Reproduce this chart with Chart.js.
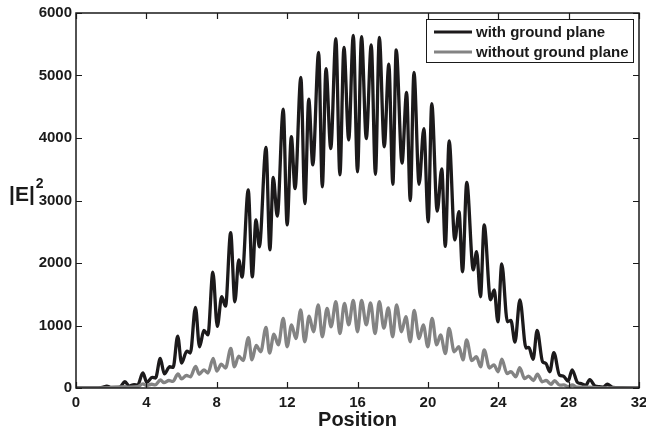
<!DOCTYPE html>
<html><head><meta charset="utf-8">
<script src="https://cdn.jsdelivr.net/npm/chart.js@4"></script>
<style>html,body{margin:0;padding:0;background:#fff;}canvas{display:block}</style>
</head><body>
<canvas id="c" width="646" height="432"></canvas>
<script>
const seriesLabels = ['with ground plane', 'without ground plane'];
const xTicks = [0, 4, 8, 12, 16, 20, 24, 28, 32];
const yTicks = [0, 1000, 2000, 3000, 4000, 5000, 6000];
const xTitle = 'Position';
const yTitle = '|E|';
const yTitleSup = '2';

const withPos = [0,0.8,1.2,1.5,1.75,2.0,2.3,2.5,2.78,3.02,3.3,3.5,3.8,4.03,4.33,4.52,4.79,5.02,5.33,5.52,5.78,6.0,6.3,6.5,6.79,7.02,7.27,7.5,7.78,8.03,8.28,8.5,8.79,9.03,9.25,9.44,9.79,10.02,10.23,10.42,10.8,11.02,11.21,11.44,11.78,12.0,12.24,12.45,12.78,13.01,13.23,13.46,13.79,14.0,14.21,14.48,14.77,15.0,15.23,15.5,15.76,16.0,16.23,16.5,16.78,17.02,17.24,17.52,17.78,18.01,18.2,18.53,18.79,19.0,19.21,19.5,19.77,20.02,20.22,20.53,20.79,20.99,21.21,21.53,21.77,21.97,22.21,22.58,22.77,22.99,23.2,23.56,23.77,23.98,24.2,24.52,24.72,24.95,25.23,25.58,25.74,25.98,26.21,26.52,26.7,26.93,27.16,27.48,27.7,27.97,28.2,28.5,28.72,28.97,29.2,29.5,29.75,29.97,30.2,30.5,31.0,32];
const withVal = [0,2,3,8,30,8,10,15,100,30,55,45,240,90,170,160,472,225,340,330,830,400,590,560,1290,660,920,850,1855,985,1460,1310,2485,1380,2050,1775,3170,1780,2690,2260,3850,2210,3370,2750,4460,2610,4020,3190,4970,2950,4620,3570,5370,3220,5110,3830,5590,3410,5450,3970,5640,3460,5620,3990,5490,3420,5610,3860,5180,3260,5410,3600,4730,3000,5050,3260,4150,2660,4550,2830,3505,2265,3955,2370,2820,1860,3290,1890,2180,1460,2610,1410,1570,1060,1985,1060,1080,735,1410,640,650,460,920,420,395,260,565,205,190,110,290,90,70,40,135,30,20,15,60,10,5,0];

const withoutPos = [0,1,2,2.8,3.0,3.5,3.8,4.0,4.3,4.5,4.8,5.0,5.28,5.5,5.8,6.0,6.28,6.5,6.8,7.0,7.27,7.5,7.8,8.0,8.26,8.5,8.8,9.0,9.25,9.5,9.8,10.0,10.24,10.5,10.8,11.0,11.25,11.5,11.78,12.0,12.25,12.5,12.77,13.0,13.25,13.5,13.77,14.0,14.27,14.5,14.77,15.0,15.26,15.5,15.76,16.0,16.23,16.5,16.74,17.0,17.24,17.5,17.75,18.0,18.22,18.5,18.75,19.0,19.22,19.5,19.74,20.0,20.24,20.5,20.72,21.0,21.2,21.5,21.76,22.0,22.2,22.5,22.76,23.0,23.2,23.5,23.75,24.0,24.2,24.5,24.72,25.0,25.22,25.5,25.72,26.0,26.23,26.5,26.72,27.0,27.2,27.5,27.72,28.0,28.2,28.5,29.2,29.5,30,31,32];
const withoutVal = [0,2,5,20,12,20,65,40,60,50,128,85,120,105,224,145,200,180,345,220,290,240,475,270,380,320,635,340,510,440,805,450,680,580,970,560,860,690,1115,660,1010,790,1250,740,1150,900,1330,820,1275,980,1380,870,1355,1010,1400,900,1400,1010,1360,870,1380,960,1280,820,1330,900,1140,740,1240,790,1010,660,1115,690,850,550,955,580,660,450,770,440,500,340,610,320,370,260,460,230,260,180,325,150,190,120,220,100,120,60,117,45,50,20,48,12,15,5,3,1,0];

const seriesColors = ['#1c1a1b', '#838383'];

function pts(xs, ys) { return xs.map((x, i) => ({ x: x, y: ys[i] })); }

const FONT = '"Liberation Sans", Arial, Helvetica, sans-serif';

const framePlugin = {
  id: 'frame',
  afterDatasetsDraw(chart) {
    const ctx = chart.ctx, a = chart.chartArea;
    const xs = chart.scales.x, ys = chart.scales.y;
    ctx.save();
    ctx.strokeStyle = '#1a1a1a';
    ctx.lineWidth = 1.5;
    ctx.strokeRect(a.left, a.top, a.right - a.left, a.bottom - a.top);
    ctx.lineWidth = 1.2;
    const L = 6;
    ctx.beginPath();
    xTicks.forEach(v => {
      const px = Math.round(xs.getPixelForValue(v)) + 0.5;
      ctx.moveTo(px, a.bottom); ctx.lineTo(px, a.bottom - L);
      ctx.moveTo(px, a.top); ctx.lineTo(px, a.top + L);
    });
    yTicks.forEach(v => {
      const py = Math.round(ys.getPixelForValue(v)) + 0.5;
      ctx.moveTo(a.left, py); ctx.lineTo(a.left + L, py);
      ctx.moveTo(a.right, py); ctx.lineTo(a.right - L, py);
    });
    ctx.stroke();

    // axis titles
    ctx.fillStyle = '#1a1a1a';
    ctx.font = 'bold 20px ' + FONT;
    ctx.textAlign = 'center';
    ctx.textBaseline = 'middle';
    ctx.fillText(xTitle, (a.left + a.right) / 2, 420);
    ctx.font = 'bold 21px ' + FONT;
    ctx.textAlign = 'left';
    ctx.fillText(yTitle, 9, 195);
    const w = ctx.measureText(yTitle).width;
    ctx.font = 'bold 14px ' + FONT;
    ctx.fillText(yTitleSup, 9 + w + 1, 184);

    // legend
    const lx = 426.5, ly = 19.5, lw = 207, lh = 43;
    ctx.fillStyle = '#fff';
    ctx.fillRect(lx, ly, lw, lh);
    ctx.strokeStyle = '#1a1a1a';
    ctx.lineWidth = 1;
    ctx.strokeRect(lx, ly, lw, lh);
    ctx.font = 'bold 15px ' + FONT;
    ctx.textBaseline = 'middle';
    seriesLabels.forEach((lab, i) => {
      const y = 32 + i * 20;
      ctx.strokeStyle = seriesColors[i];
      ctx.lineWidth = 3;
      ctx.beginPath(); ctx.moveTo(434, y); ctx.lineTo(472, y); ctx.stroke();
      ctx.fillStyle = '#1a1a1a';
      ctx.fillText(lab, 476, y + 1);
    });
    ctx.restore();
  }
};

new Chart(document.getElementById('c'), {
  type: 'line',
  data: {
    datasets: [
      { label: seriesLabels[0], data: pts(withPos, withVal), borderColor: seriesColors[0], borderWidth: 3.3, pointRadius: 0, cubicInterpolationMode: 'monotone', fill: false, order: 2 },
      { label: seriesLabels[1], data: pts(withoutPos, withoutVal), borderColor: seriesColors[1], borderWidth: 3.3, pointRadius: 0, cubicInterpolationMode: 'monotone', fill: false, order: 1 }
    ]
  },
  options: {
    responsive: false,
    animation: false,
    devicePixelRatio: 1,
    parsing: true,
    layout: { padding: { left: 0, right: 7, top: 13, bottom: 0 } },
    plugins: { legend: { display: false }, tooltip: { enabled: false }, title: { display: false } },
    scales: {
      x: {
        type: 'linear', min: 0, max: 32,
        afterBuildTicks: s => { s.ticks = xTicks.map(v => ({ value: v })); },
        afterFit: s => { s.height = 44; s.paddingLeft = 0; s.paddingRight = 0; },
        grid: { display: false, drawTicks: false },
        border: { display: false },
        ticks: { padding: 6, color: '#1a1a1a', font: { family: FONT, size: 15, weight: 'bold' }, maxRotation: 0, autoSkip: false }
      },
      y: {
        type: 'linear', min: 0, max: 6000,
        afterBuildTicks: s => { s.ticks = yTicks.map(v => ({ value: v })); },
        afterFit: s => { s.width = 76; s.paddingTop = 0; s.paddingBottom = 0; },
        grid: { display: false, drawTicks: false },
        border: { display: false },
        ticks: { padding: 4, color: '#1a1a1a', font: { family: FONT, size: 15, weight: 'bold' }, autoSkip: false, callback: v => String(v) }
      }
    }
  },
  plugins: [framePlugin]
});
</script>
</body></html>
